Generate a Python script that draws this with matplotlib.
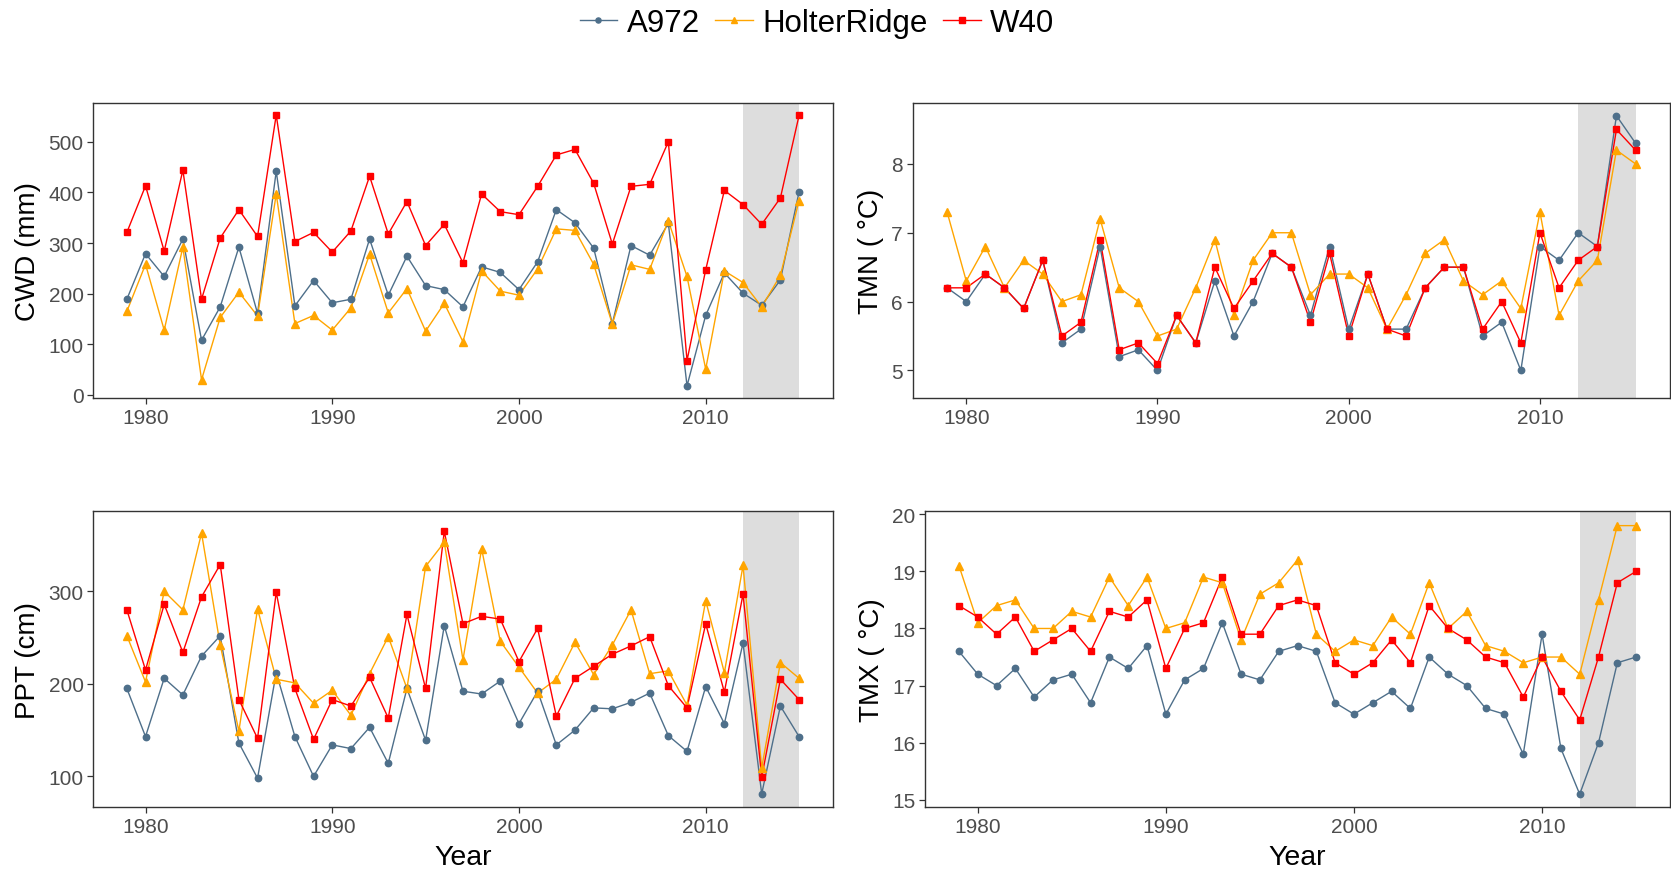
import numpy as np
import matplotlib.pyplot as plt
from matplotlib.lines import Line2D

plt.rcParams['font.family'] = ['Liberation Sans', 'DejaVu Sans']

years = np.arange(1979, 2016)

# --- climate series per site ---------------------

cwd_a972 = [189, 279, 234, 308, 108, 174, 292, 161, 442, 176,
            226, 182, 189, 308, 197, 274, 216, 208, 174, 253,
            242, 208, 263, 366, 340, 290, 141, 295, 276, 339,
            18, 157, 241, 201, 177, 227, 401]
cwd_holter = [165, 258, 128, 292, 30, 153, 203, 156, 397, 141,
              157, 128, 172, 278, 162, 210, 126, 181, 105, 245,
              205, 197, 249, 328, 325, 258, 140, 257, 248, 344,
              234, 51, 245, 222, 174, 236, 384]
cwd_w40 = [321, 413, 284, 444, 189, 310, 366, 313, 553, 303,
           321, 282, 324, 432, 318, 382, 295, 337, 261, 397,
           362, 356, 412, 474, 485, 418, 298, 412, 416, 500,
           68, 247, 404, 376, 337, 389, 552]

tmn_a972 = [6.2, 6.0, 6.4, 6.2, 5.9, 6.6, 5.4, 5.6, 6.8, 5.2,
            5.3, 5.0, 5.8, 5.4, 6.3, 5.5, 6.0, 6.7, 6.5, 5.8,
            6.8, 5.6, 6.4, 5.6, 5.6, 6.2, 6.5, 6.5, 5.5, 5.7,
            5.0, 6.8, 6.6, 7.0, 6.8, 8.7, 8.3]
tmn_holter = [7.3, 6.3, 6.8, 6.2, 6.6, 6.4, 6.0, 6.1, 7.2, 6.2,
              6.0, 5.5, 5.6, 6.2, 6.9, 5.8, 6.6, 7.0, 7.0, 6.1,
              6.4, 6.4, 6.2, 5.6, 6.1, 6.7, 6.9, 6.3, 6.1, 6.3,
              5.9, 7.3, 5.8, 6.3, 6.6, 8.2, 8.0]
tmn_w40 = [6.2, 6.2, 6.4, 6.2, 5.9, 6.6, 5.5, 5.7, 6.9, 5.3,
           5.4, 5.1, 5.8, 5.4, 6.5, 5.9, 6.3, 6.7, 6.5, 5.7,
           6.7, 5.5, 6.4, 5.6, 5.5, 6.2, 6.5, 6.5, 5.6, 6.0,
           5.4, 7.0, 6.2, 6.6, 6.8, 8.5, 8.2]

ppt_a972 = [195, 143, 206, 188, 230, 252, 136, 98, 212, 143,
            100, 134, 130, 153, 114, 195, 139, 263, 192, 189,
            203, 157, 192, 134, 150, 174, 173, 180, 190, 144,
            127, 197, 157, 244, 81, 176, 143]
ppt_holter = [252, 202, 300, 280, 363, 242, 149, 281, 205, 201,
              179, 193, 166, 211, 251, 195, 327, 353, 226, 346,
              246, 218, 190, 205, 245, 210, 242, 280, 211, 214,
              177, 290, 212, 328, 109, 223, 206]
ppt_w40 = [280, 215, 286, 234, 294, 329, 183, 141, 299, 195,
           140, 183, 176, 207, 163, 275, 195, 365, 265, 273,
           270, 224, 260, 165, 206, 219, 232, 241, 251, 198,
           174, 265, 191, 297, 99, 205, 183]

tmx_a972 = [17.6, 17.2, 17.0, 17.3, 16.8, 17.1, 17.2, 16.7, 17.5, 17.3,
            17.7, 16.5, 17.1, 17.3, 18.1, 17.2, 17.1, 17.6, 17.7, 17.6,
            16.7, 16.5, 16.7, 16.9, 16.6, 17.5, 17.2, 17.0, 16.6, 16.5,
            15.8, 17.9, 15.9, 15.1, 16.0, 17.4, 17.5]
tmx_holter = [19.1, 18.1, 18.4, 18.5, 18.0, 18.0, 18.3, 18.2, 18.9, 18.4,
              18.9, 18.0, 18.1, 18.9, 18.8, 17.8, 18.6, 18.8, 19.2, 17.9,
              17.6, 17.8, 17.7, 18.2, 17.9, 18.8, 18.0, 18.3, 17.7, 17.6,
              17.4, 17.5, 17.5, 17.2, 18.5, 19.8, 19.8]
tmx_w40 = [18.4, 18.2, 17.9, 18.2, 17.6, 17.8, 18.0, 17.6, 18.3, 18.2,
           18.5, 17.3, 18.0, 18.1, 18.9, 17.9, 17.9, 18.4, 18.5, 18.4,
           17.4, 17.2, 17.4, 17.8, 17.4, 18.4, 18.0, 17.8, 17.5, 17.4,
           16.8, 17.5, 16.9, 16.4, 17.5, 18.8, 19.0]

sites = ['A972', 'HolterRidge', 'W40']
site_colors = ['#4E6F8A', '#FFA500', '#FF0000']
site_markers = ['o', '^', 's']
site_msize = [4.6, 5.6, 5.0]

shade_start, shade_end = 2012, 2015

# --- panels: (axes rect, data, ylabel, yticks, ylim, show xlabel) ---

panels = [
	([0.0558, 0.5414, 0.4425, 0.3387], [cwd_a972, cwd_holter, cwd_w40],
	 'CWD (mm)', [0, 100, 200, 300, 400, 500], (-6, 576), False),
	([0.5462, 0.5414, 0.4532, 0.3387], [tmn_a972, tmn_holter, tmn_w40],
	 'TMN ( °C)', [5, 6, 7, 8], (4.6, 8.88), False),
	([0.0558, 0.0709, 0.4425, 0.3402], [ppt_a972, ppt_holter, ppt_w40],
	 'PPT (cm)', [100, 200, 300], (66.5, 386.5), True),
	([0.5536, 0.0709, 0.4458, 0.3402], [tmx_a972, tmx_holter, tmx_w40],
	 'TMX ( °C)', [15, 16, 17, 18, 19, 20], (14.87, 20.05), True),
]

fig = plt.figure(figsize=(16.71, 8.70), dpi=100)

for rect, series, ylab, yticks, ylim, show_x in panels:

	ax = fig.add_axes(rect)

	ax.axvspan(shade_start, shade_end, color='#DDDDDD', lw=0, zorder=1)

	# lines first, then the points on top of every line
	for vals, c in zip(series, site_colors):
		ax.plot(years, vals, color=c, lw=1.0, zorder=2)

	for vals, c, m, ms in zip(series, site_colors, site_markers, site_msize):
		ax.plot(years, vals, ls='none', marker=m, ms=ms,
			color=c, mec=c, zorder=3)

	ax.set_xlim(1977.2, 2016.8)
	ax.set_ylim(*ylim)
	ax.set_xticks([1980, 1990, 2000, 2010])
	ax.set_yticks(yticks)

	for s in ax.spines.values():
		s.set_color('#333333')
		s.set_linewidth(1.0)

	ax.tick_params(axis='both', direction='out', length=4, width=0.9,
		color='#333333', labelsize=15, labelcolor='#4D4D4D', pad=3)

	ax.set_ylabel(ylab, fontsize=20, color='black', labelpad=5)

	if show_x:
		ax.set_xlabel('Year', fontsize=20.5, color='black', labelpad=6)

handles = [Line2D([], [], color=c, lw=1.0, marker=m, ms=ms * 0.8, mec=c)
	for c, m, ms in zip(site_colors, site_markers, site_msize)]

fig.legend(handles, sites, loc='upper center', bbox_to_anchor=(0.489, 1.022),
	ncol=3, frameon=False, fontsize=22.5, handlelength=1.2,
	handletextpad=0.3, columnspacing=0.5)

fig.savefig('out.png', dpi=100)
plt.close()
